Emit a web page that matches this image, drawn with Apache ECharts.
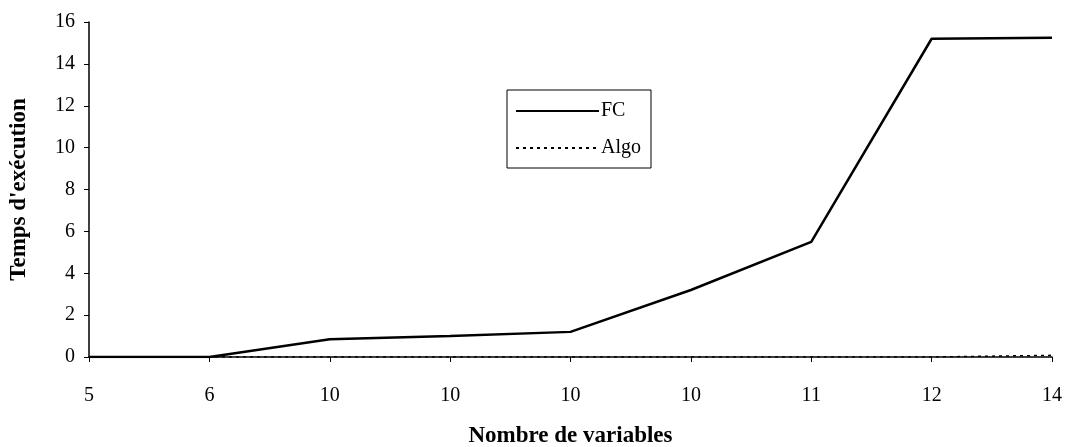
<!DOCTYPE html>
<html>
<head>
<meta charset="utf-8">
<script src="https://cdn.jsdelivr.net/npm/echarts@6/dist/echarts.min.js"></script>
<style>
  html, body { margin: 0; padding: 0; background: #fff; }
  #chart { width: 1065px; height: 447px; }
</style>
</head>
<body>
<div id="chart"></div>
<script>
// nombre de variables (catégories de l'axe x)
var categories = ['5', '6', '10', '10', '10', '10', '11', '12', '14'];
// temps d'exécution
var fcValues = [0, 0, 0.85, 1.0, 1.2, 3.2, 5.5, 15.2, 15.25];
var algoValues = [0, 0, 0, 0, 0, 0, 0, 0, 0.08];

var serif = '"Liberation Serif", "DejaVu Serif", serif';

var myChart = echarts.init(document.getElementById('chart'));
myChart.setOption({
  animation: false,
  backgroundColor: '#fff',
  textStyle: { fontFamily: serif, color: '#000' },
  grid: { left: 89, right: 13, top: 22, bottom: 90, outerBoundsMode: 'none', containLabel: false },
  legend: {
    orient: 'vertical',
    left: 507,
    top: 90,
    borderColor: '#000',
    borderWidth: 1,
    padding: [11, 10, 10, 8],
    itemGap: 17,
    itemWidth: 83,
    itemHeight: 2,
    itemStyle: { color: 'transparent', borderWidth: 0, opacity: 0 },
    textStyle: { fontFamily: serif, fontSize: 20, color: '#000', padding: [0, 0, 0, -3] },
    data: ['FC', 'Algo']
  },
  xAxis: {
    type: 'category',
    boundaryGap: false,
    data: categories,
    name: 'Nombre de variables',
    nameLocation: 'middle',
    nameGap: 68,
    nameTextStyle: { fontFamily: serif, fontSize: 23, fontWeight: 'bold', color: '#000' },
    axisLine: { lineStyle: { color: '#000', width: 1.5 } },
    axisTick: { show: true, length: 5, lineStyle: { color: '#000' } },
    axisLabel: { fontFamily: serif, fontSize: 20, color: '#000', margin: 29 },
    splitLine: { show: false }
  },
  yAxis: {
    type: 'value',
    min: 0,
    max: 16,
    interval: 2,
    name: "Temps d'exécution",
    nameLocation: 'middle',
    nameGap: 58,
    nameTextStyle: { fontFamily: serif, fontSize: 23, fontWeight: 'bold', color: '#000' },
    axisLine: { show: true, lineStyle: { color: '#000', width: 1.5 } },
    axisTick: { show: true, length: 5, lineStyle: { color: '#000' } },
    axisLabel: { fontFamily: serif, fontSize: 20, color: '#000', margin: 14 },
    splitLine: { show: false }
  },
  series: [
    {
      name: 'FC',
      type: 'line',
      data: fcValues,
      symbol: 'none',
      lineStyle: { color: '#000', width: 2.5, type: 'solid' },
      itemStyle: { color: '#000' }
    },
    {
      name: 'Algo',
      type: 'line',
      data: algoValues,
      symbol: 'none',
      lineStyle: { color: '#000', width: 1.5, type: [3, 4] },
      itemStyle: { color: '#000' }
    }
  ]
});
</script>
</body>
</html>
